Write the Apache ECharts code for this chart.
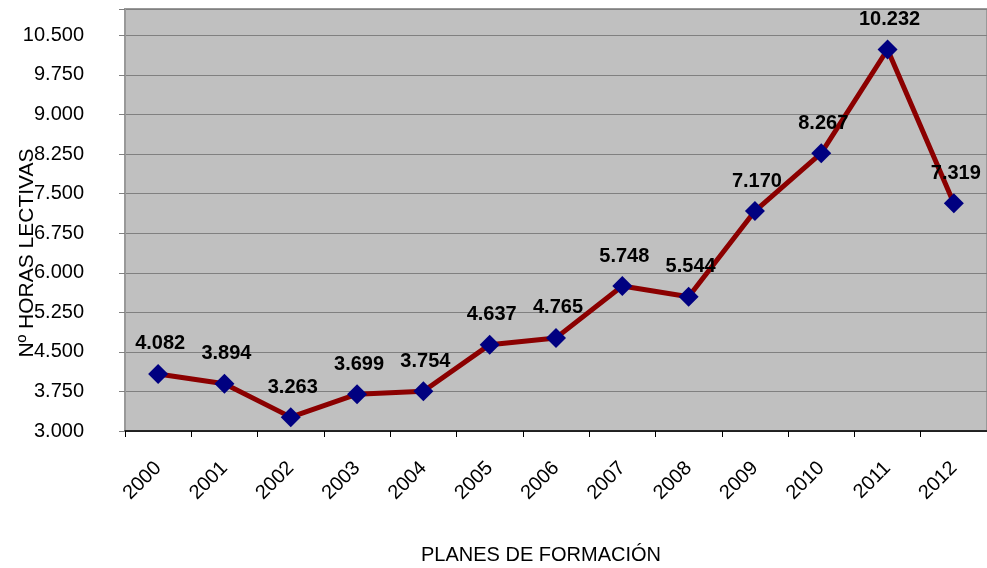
<!DOCTYPE html>
<html>
<head>
<meta charset="utf-8">
<script src="https://cdn.jsdelivr.net/npm/echarts@6/dist/echarts.min.js"></script>
<style>
html, body { margin: 0; padding: 0; background: #fff; }
#chartLine { width: 987px; height: 568px; }
</style>
</head>
<body>
<div id="chartLine"></div>
<script>
// planes de formación: horas lectivas por año
const years = ['2000', '2001', '2002', '2003', '2004', '2005', '2006', '2007', '2008', '2009', '2010', '2011', '2012']
const horas = [4082, 3894, 3263, 3699, 3754, 4637, 4765, 5748, 5544, 7170, 8267, 10232, 7319]
const yMin = 3000
const yMax = 11000
const yStep = 750
const xName = 'PLANES DE FORMACIÓN'
const yName = 'Nº HORAS LECTIVAS'

const fmt = (v) => String(v).replace(/\B(?=(\d{3})+(?!\d))/g, '.')
const font = 'Liberation Sans, Arial, sans-serif'

const myChart = echarts.init(document.getElementById('chartLine'))
myChart.setOption({
  animation: false,
  grid: {
    left: 125,
    right: -1,
    top: 9,
    bottom: 137,
    show: true,
    backgroundColor: '#C0C0C0',
    borderColor: '#999999',
    borderWidth: 2
  },
  xAxis: {
    type: 'category',
    data: years,
    boundaryGap: true,
    axisLine: { lineStyle: { color: '#000', width: 1.5 } },
    axisTick: { show: true, length: 6, lineStyle: { color: '#000' } },
    axisLabel: {
      rotate: 45,
      margin: 34,
      fontSize: 20,
      fontFamily: font,
      color: '#000'
    }
  },
  yAxis: {
    type: 'value',
    min: yMin,
    max: yMax,
    interval: yStep,
    axisLine: { show: true, lineStyle: { color: '#999999', width: 2 } },
    axisTick: { show: true, length: 6, lineStyle: { color: '#808080' } },
    splitLine: { lineStyle: { color: '#808080', width: 1 } },
    axisLabel: {
      margin: 41,
      fontSize: 20,
      fontFamily: font,
      color: '#000',
      formatter: (v) => (v > 10500 ? '' : fmt(v))
    }
  },
  series: [
    {
      type: 'line',
      data: horas,
      symbol: 'diamond',
      symbolSize: 20,
      lineStyle: { color: '#8B0000', width: 5 },
      itemStyle: { color: '#000080' },
      label: {
        show: true,
        position: 'top',
        distance: 10,
        offset: [2, 0],
        fontSize: 20,
        fontWeight: 'bold',
        fontFamily: font,
        color: '#000',
        formatter: (p) => fmt(p.value)
      },
      z: 3
    }
  ],
  graphic: [
    {
      type: 'text',
      x: 27,
      y: 253,
      rotation: Math.PI / 2,
      style: {
        text: yName,
        fontSize: 21,
        fontFamily: font,
        fill: '#000',
        align: 'center',
        verticalAlign: 'middle'
      }
    },
    {
      type: 'text',
      x: 541,
      y: 555,
      style: {
        text: xName,
        fontSize: 20,
        fontFamily: font,
        fill: '#000',
        align: 'center',
        verticalAlign: 'middle'
      }
    }
  ]
})
window.addEventListener('resize', () => {
  myChart.resize()
})
</script>
</body>
</html>
